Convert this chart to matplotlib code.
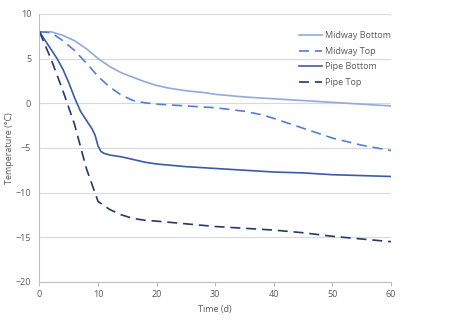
import matplotlib
matplotlib.use("Agg")
import matplotlib.pyplot as plt

# Temperature histories (°C) versus time (days)
t_mid_bottom = [0, 2, 4, 6, 8, 10, 12, 14, 16, 18, 20, 22, 25, 28, 30, 35, 40, 45, 50, 55, 60]
midway_bottom = [8.0, 8.0, 7.6, 7.0, 6.1, 5.0, 4.1, 3.4, 2.9, 2.4, 2.0, 1.7, 1.4, 1.2, 1.0, 0.7, 0.5, 0.3, 0.1, -0.1, -0.3]

t_mid_top = [0, 2, 4, 6, 8, 10, 12, 14, 16, 18, 20, 25, 30, 35, 38, 40, 45, 50, 55, 60]
midway_top = [8.0, 7.9, 7.0, 5.9, 4.5, 3.0, 1.8, 0.9, 0.3, 0.05, -0.1, -0.3, -0.5, -0.9, -1.3, -1.7, -2.8, -3.9, -4.7, -5.3]

t_pipe_bottom = [0, 1, 2, 3, 4, 5, 6, 7, 8, 9, 9.5, 10, 10.5, 11, 12, 14, 16, 18, 20, 25, 30, 35, 40, 45, 50, 55, 60]
pipe_bottom = [8.0, 7.0, 6.0, 5.0, 3.8, 2.3, 0.6, -0.9, -1.9, -2.9, -3.6, -4.8, -5.4, -5.6, -5.8, -6.0, -6.3, -6.6, -6.8, -7.1, -7.3, -7.5, -7.7, -7.8, -8.0, -8.1, -8.2]

t_pipe_top = [0, 2, 4, 6, 8, 10, 12, 14, 16, 18, 20, 25, 30, 35, 40, 45, 50, 55, 60]
pipe_top = [8.0, 4.9, 1.4, -2.4, -7.3, -11.0, -11.9, -12.5, -12.9, -13.1, -13.2, -13.5, -13.8, -14.0, -14.2, -14.5, -14.9, -15.2, -15.5]

x_ticks = [0, 10, 20, 30, 40, 50, 60]
y_ticks = [-20, -15, -10, -5, 0, 5, 10]

plt.rcParams['font.family'] = ['Open Sans', 'DejaVu Sans']

fig = plt.figure(figsize=(4.7, 3.24), dpi=100)
ax = fig.add_axes([0.084, 0.130, 0.748, 0.827])

dash = (0, (6, 3.5))
ax.plot(t_mid_bottom, midway_bottom, color='#8faadc', lw=1.2, label='Midway Bottom')
ax.plot(t_mid_top, midway_top, color='#4f7fd6', lw=1.2, ls=dash, label='Midway Top')
ax.plot(t_pipe_bottom, pipe_bottom, color='#3a5ba8', lw=1.2, label='Pipe Bottom')
ax.plot(t_pipe_top, pipe_top, color='#233a6e', lw=1.2, ls=dash, label='Pipe Top')

ax.set_xlim(0, 60)
ax.set_ylim(-20, 10)
ax.set_xticks(x_ticks)
ax.set_yticks(y_ticks)
ax.grid(axis='y', color='#d9d9d9', lw=0.8)
ax.set_axisbelow(True)

for s in ['top', 'right']:
    ax.spines[s].set_visible(False)
for s in ['left', 'bottom']:
    ax.spines[s].set_color('#bfbfbf')
    ax.spines[s].set_linewidth(0.8)

ax.tick_params(axis='x', colors='#bfbfbf', labelcolor='#595959', labelsize=6.5, length=3, width=0.8, pad=3)
ax.tick_params(axis='y', length=0, labelcolor='#595959', labelsize=6.5, pad=6)

ax.set_xlabel('Time (d)', fontsize=6.5, color='#595959', labelpad=4)
ax.set_ylabel('Temperature (°C)', fontsize=6.5, color='#595959')
ax.yaxis.set_label_coords(-0.072, 0.5)

leg = ax.legend(loc='upper right', bbox_to_anchor=(1.015, 0.955), frameon=False, fontsize=6.5,
                handlelength=2.6, handletextpad=0.3, labelspacing=0.72, borderaxespad=0.2)
for txt in leg.get_texts():
    txt.set_color('#595959')

fig.savefig('out.png', dpi=100)
